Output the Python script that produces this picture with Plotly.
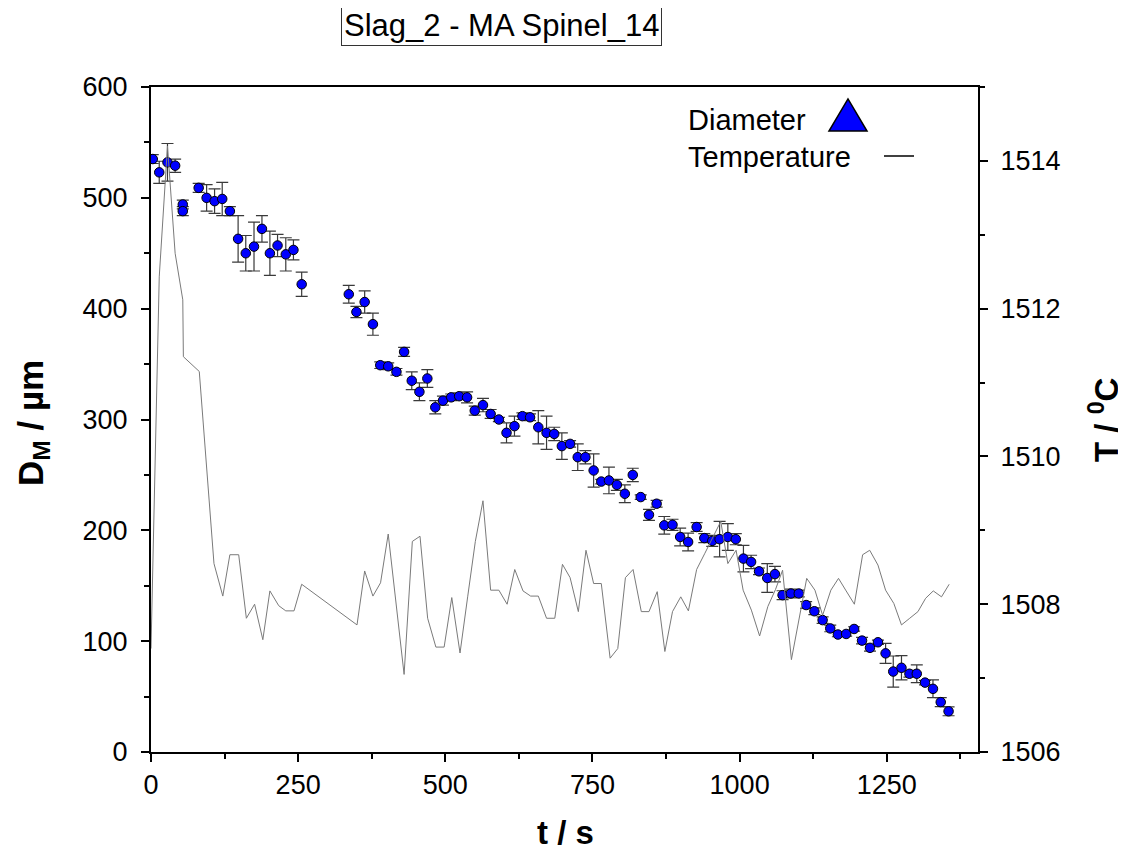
import plotly.graph_objects as go

# ---- Diameter data (t / s, D_M / µm, error) ----
t_diam = [3, 14, 28, 41, 54, 54, 81, 94.5, 108, 121, 134, 148, 161, 175, 188.5, 202, 215, 229, 242, 256,
          336, 349, 363, 377, 389.5, 403, 417, 430, 443, 456, 469.5, 483, 496, 510, 523.5, 537, 550, 564,
          577, 591, 604, 617.5, 631, 644, 658, 672, 685, 698, 712, 725, 738, 752, 765, 778, 791.5, 805,
          818.5, 832, 846, 859, 872, 886, 899, 912.5, 927, 940, 953.5, 966, 980, 993.5, 1006.5, 1019.5,
          1033, 1047, 1060, 1073, 1087, 1100.5, 1113, 1127, 1141, 1154, 1167, 1181, 1194.5, 1208, 1221.5,
          1235, 1248, 1261, 1275, 1288.5, 1301, 1315, 1328.5, 1341.7, 1355]
d_diam = [535, 523, 532, 529, 494, 488, 509, 500, 497, 499, 488, 463, 450, 456, 472, 450, 457, 449, 453, 422,
          413, 397, 406, 386, 349, 348, 343, 361, 335, 325, 337, 311, 317, 320, 321, 320, 308, 313,
          305, 300, 288, 294, 303, 302, 293, 288, 287, 276, 278, 266, 266, 254, 244, 245, 241, 233,
          250, 230, 214, 224, 204.5, 205, 194, 189.5, 203, 193, 190.5, 192, 194, 192, 174.5, 171.5,
          163, 157, 160.5, 141.5, 143, 143, 132.6, 127, 119, 111.5, 106, 106.5, 111, 100.5, 94,
          99, 89, 72.6, 76, 70.6, 70.6, 62.6, 57, 45, 36.7]
e_diam = [4, 10, 17, 6, 4, 4, 4, 12, 11, 15, 4, 21, 16, 22, 12, 20, 10, 15, 9, 11,
          8, 5, 10, 10, 3, 3, 3, 4, 8, 8, 8, 6, 4, 3, 3, 5, 4, 6,
          4, 2, 9, 9, 3, 3, 15, 15, 6, 12, 3, 12, 6, 15, 2, 12, 5, 8,
          6, 2, 5, 3, 8, 5, 8, 8, 4, 4, 5, 16, 12, 5, 12, 6,
          3, 13, 7, 4, 4, 3, 3, 3, 3, 3, 2, 2, 2, 3, 3,
          2, 9, 14, 11, 3, 8, 2, 8, 4, 4]

# ---- Temperature data (t / s, T / °C) ----
t_temp = [0, 14, 28, 41, 54, 55, 82, 107, 122, 134, 149, 162, 176, 190, 202, 217, 229, 243, 256,
          350, 363, 377, 390, 403, 430, 444, 457, 470, 484, 498, 511, 525, 538, 551, 564, 577, 591,
          605, 618, 632, 645, 658, 672, 686, 699, 712, 726, 739, 752, 765, 780, 793, 806, 819, 833,
          846, 860, 873, 886, 900, 913, 927, 941, 954, 968, 980, 994, 1006, 1020, 1034, 1048, 1061,
          1073, 1088, 1101, 1114, 1128, 1141, 1155, 1168, 1181, 1195, 1209, 1221, 1235, 1248, 1262,
          1275, 1289, 1303, 1316, 1329, 1343, 1356]
T_temp = [1507.4, 1512.43, 1514.2, 1512.75, 1512.12, 1511.35, 1511.15, 1508.55, 1508.11, 1508.67, 1508.67,
          1507.81, 1508.00, 1507.52, 1508.18, 1507.98, 1507.91, 1507.91, 1508.27,
          1507.72, 1508.45, 1508.11, 1508.29, 1508.95, 1507.05, 1508.85, 1508.92, 1507.81, 1507.42,
          1507.42, 1508.09, 1507.34, 1508.1, 1508.85, 1509.40, 1508.19, 1508.19,
          1508.00, 1508.47, 1508.18, 1508.11, 1508.11, 1507.81, 1507.81, 1508.54, 1508.36, 1507.90,
          1508.73, 1508.28, 1508.28, 1507.27, 1507.40, 1508.36, 1508.47, 1507.90,
          1507.90, 1508.17, 1507.36, 1507.90, 1508.10, 1507.91, 1508.47, 1508.69, 1508.89, 1509.12,
          1508.55, 1508.73, 1508.19, 1507.92, 1507.57, 1507.97, 1508.2,
          1508.46, 1507.25, 1507.8, 1508.35, 1508.19, 1507.85, 1508.19, 1508.35, 1508.18, 1508.00,
          1508.67, 1508.73, 1508.53, 1508.19, 1508.01,
          1507.72, 1507.81, 1507.90, 1508.08, 1508.18, 1508.10, 1508.27]

title_text = "Slag_2 - MA Spinel_14"
x_title = "t / s"
y_title = "D<sub>M</sub> / µm"
y2_title = "T / <sup>0</sup>C"
legend_names = ["Diameter", "Temperature"]

FONT = "Liberation Sans, Arial, sans-serif"

fig = go.Figure()

fig.add_trace(go.Scatter(
    x=t_temp, y=T_temp, yaxis="y2", mode="lines",
    line=dict(color="#7a7a7a", width=1),
    name=legend_names[1], showlegend=False,
))

fig.add_trace(go.Scatter(
    x=t_diam, y=d_diam, mode="markers",
    marker=dict(symbol="circle", size=9.5, color="#0000ff", line=dict(color="#000000", width=1)),
    error_y=dict(type="data", array=e_diam, visible=True, color="#3a3a3a", thickness=1.2, width=6),
    name=legend_names[0], showlegend=False,
))

axis_common = dict(
    showline=True, linecolor="black", linewidth=2,
    ticks="outside", ticklen=8, tickwidth=2, tickcolor="black",
    showgrid=False, zeroline=False,
    tickfont=dict(family=FONT, size=27, color="black"),
)

# page body has an 8px margin, so the figure is drawn 8px in from the top-left
FIG_W, FIG_H = 1118, 843
ML, MT = 143, 79
PW, PH = 827, 665

fig.update_layout(
    width=FIG_W, height=FIG_H,
    paper_bgcolor="white", plot_bgcolor="white",
    margin=dict(l=ML, r=FIG_W - ML - PW, t=MT, b=FIG_H - MT - PH),
    xaxis=dict(range=[0, 1405], dtick=250, tick0=0, mirror=True,
               minor=dict(ticks="outside", ticklen=5, tickwidth=2, dtick=125, tickcolor="black"),
               **axis_common),
    yaxis=dict(range=[0, 600], dtick=100, tick0=0, ticklabelstandoff=8,
               minor=dict(ticks="outside", ticklen=5, tickwidth=2, dtick=50, tickcolor="black"),
               **axis_common),
    yaxis2=dict(range=[1506, 1515], dtick=2, tick0=1506, overlaying="y", side="right",
                ticklabelstandoff=7,
                minor=dict(ticks="outside", ticklen=5, tickwidth=2, dtick=1, tickcolor="black"),
                **axis_common),
    showlegend=False,
)

# helpers: page pixel -> paper coordinate (plot area spans x 151..978, y 87..752 on the page)
def px(x):
    return (x - 151) / PW
def py(y):
    return (752 - y) / PH

annotations = [
    dict(text=title_text, x=px(501), y=py(26), xref="paper", yref="paper", showarrow=False,
         font=dict(family=FONT, size=31, color="black"), xanchor="center", yanchor="middle",
         bordercolor="#333333", borderwidth=1, borderpad=2, bgcolor="white"),
    dict(text="<b>" + x_title + "</b>", x=px(565), y=py(832), xref="paper", yref="paper", showarrow=False,
         font=dict(family=FONT, size=33, color="black"), xanchor="center", yanchor="middle"),
    dict(text="<b>" + y_title + "</b>", x=px(33), y=py(423), xref="paper", yref="paper", showarrow=False,
         font=dict(family=FONT, size=35, color="black"), xanchor="center", yanchor="middle", textangle=-90),
    dict(text="<b>" + y2_title + "</b>", x=px(1104), y=py(420), xref="paper", yref="paper", showarrow=False,
         font=dict(family=FONT, size=33, color="black"), xanchor="center", yanchor="middle", textangle=-90),
    dict(text=legend_names[0], x=px(686), y=py(120), xref="paper", yref="paper", showarrow=False,
         font=dict(family=FONT, size=29, color="black"), xanchor="left", yanchor="middle"),
    dict(text=legend_names[1], x=px(686), y=py(157), xref="paper", yref="paper", showarrow=False,
         font=dict(family=FONT, size=29, color="black"), xanchor="left", yanchor="middle"),
]
fig.update_layout(annotations=annotations)

tri = "M {:.4f} {:.4f} L {:.4f} {:.4f} L {:.4f} {:.4f} Z".format(px(829), py(131), px(867), py(131), px(848), py(99))
fig.update_layout(shapes=[
    dict(type="path", path=tri, xref="paper", yref="paper",
         fillcolor="#0000ff", line=dict(color="black", width=1.5)),
    dict(type="line", x0=px(884), x1=px(914), y0=py(156), y1=py(156), xref="paper", yref="paper",
         line=dict(color="black", width=1.5)),
])

fig.write_html("out.html")
